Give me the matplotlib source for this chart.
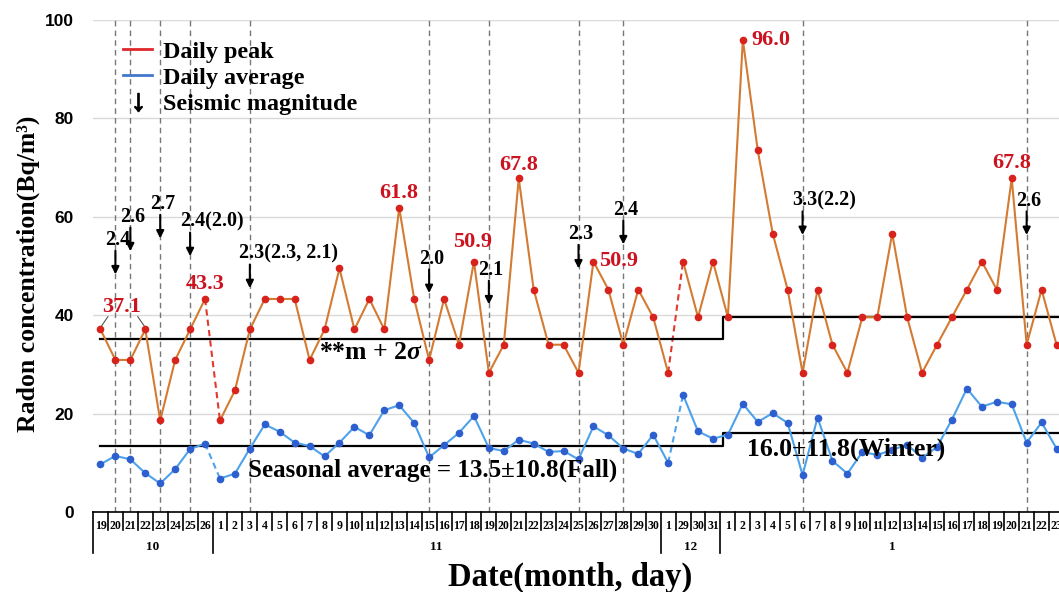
import matplotlib
matplotlib.use("Agg")
import matplotlib.pyplot as plt
import matplotlib.transforms as mtransforms
from matplotlib.lines import Line2D

plt.rcParams["font.family"] = ["Liberation Serif", "DejaVu Serif"]
plt.rcParams["font.weight"] = "bold"
plt.rcParams["axes.labelweight"] = "bold"
plt.rcParams["mathtext.fontset"] = "custom"
plt.rcParams["mathtext.rm"] = "Liberation Serif:bold"
plt.rcParams["mathtext.it"] = "Liberation Serif:italic:bold"
plt.rcParams["mathtext.bf"] = "Liberation Serif:bold"

# ---- data ---------------------------------------------------------------
months = ["10", "11", "12", "1"]
month_days = [
    list(range(19, 27)),
    list(range(1, 31)),
    [1, 29, 30, 31],
    list(range(1, 24)),
]

# daily peak radon concentration (Bq/m3)
peak = [
    37.1, 30.9, 30.9, 37.1, 18.6, 30.9, 37.1, 43.3,
    18.6, 24.7, 37.1, 43.3, 43.3, 43.3, 30.9, 37.1, 49.5, 37.1,
    43.3, 37.1, 61.8, 43.3, 30.9, 43.3, 34.0, 50.9, 28.3, 34.0,
    67.8, 45.2, 34.0, 34.0, 28.3, 50.9, 45.2, 34.0, 45.2, 39.6,
    28.3, 50.9, 39.6, 50.9,
    39.6, 96.0, 73.5, 56.6, 45.2, 28.3, 45.2, 34.0, 28.3, 39.6,
    39.6, 56.6, 39.6, 28.3, 34.0, 39.6, 45.2, 50.9, 45.2, 67.8,
    34.0, 45.2, 34.0,
]
# daily average radon concentration (Bq/m3)
average = [
    9.7, 11.4, 10.7, 7.9, 5.8, 8.7, 12.8, 13.9,
    6.8, 7.8, 12.9, 17.8, 16.3, 14.1, 13.4, 11.3, 14.1, 17.3,
    15.6, 20.7, 21.7, 18.1, 11.1, 13.6, 16.1, 19.5, 13.0, 12.4,
    14.7, 13.9, 12.2, 12.4, 10.7, 17.4, 15.6, 12.9, 11.8, 15.7,
    10.0, 23.8, 16.4, 14.9,
    15.7, 22.0, 18.3, 20.1, 18.1, 7.5, 19.2, 10.4, 7.8, 12.2,
    11.6, 12.6, 13.7, 11.0, 13.2, 18.8, 25.1, 21.4, 22.4, 21.9,
    14.1, 18.2, 12.9,
]
# last day before a stretch of missing days
gaps_after = [7, 38]

# earthquakes: day index and magnitude text
quake_idx = [1, 2, 4, 6, 10, 22, 26, 32, 35, 47, 62]
quake_mag = ["2.4", "2.6", "2.7", "2.4(2.0)", "2.3(2.3, 2.1)", "2.0",
             "2.1", "2.3", "2.4", "3.3(2.2)", "2.6"]

# seasonal statistics of the daily average
season_names = ["Fall", "Winter"]
season_mean = [13.5, 16.0]
season_std = [10.8, 11.8]
season_start = [0, 42]

# peaks that get a value label
label_idx = [0, 7, 20, 25, 28, 33, 43, 61]

# ---- layout -------------------------------------------------------------
quake_text_y = [55.3, 60.0, 62.6, 59.0, 52.5, 51.5, 49.2, 56.5, 61.4, 63.3, 63.3]
# (dx points, dy points, ha)
label_offset = {
    0: (15, 16, "center"),
    7: (0, 11, "center"),
    20: (0, 11, "center"),
    25: (-1, 14, "center"),
    28: (0, 9.5, "center"),
    33: (4, 0.5, "left"),
    43: (6, -0.5, "left"),
    61: (0, 11, "center"),
}

PEAK_LINE = "#d47b33"
PEAK_DOT = "#d8231c"
AVG_LINE = "#4ea2ea"
AVG_DOT = "#2e5fcf"
LABEL_RED = "#cc1420"

n = len(peak)
x = list(range(n))
xmax = n - 0.5

fig = plt.figure(figsize=(10.59, 5.92), dpi=100)
ax = fig.add_axes([93 / 1059, 80 / 592, 971 / 1059, 492 / 592])
ax.set_xlim(-0.5, xmax)
ax.set_ylim(0, 100)

ax.set_yticks([0, 20, 40, 60, 80, 100])
ax.tick_params(axis="y", length=0, pad=14)
for t in ax.get_yticklabels():
    t.set_family("Liberation Sans")
    t.set_fontsize(12.5)
    t.set_fontweight("bold")
ax.set_xticks([])
for s in ["top", "right", "left"]:
    ax.spines[s].set_visible(False)
ax.spines["bottom"].set_linewidth(1.2)
ax.yaxis.grid(True, color="#d9d9d9", lw=1)
ax.set_axisbelow(True)

# earthquake days
for qi in quake_idx:
    ax.axvline(qi, color="#777777", lw=1, ls=(0, (4, 3)), zorder=1)

# series, solid within runs, dashed across missing days
bounds = [0] + [g + 1 for g in gaps_after] + [n]
for a, b in zip(bounds[:-1], bounds[1:]):
    ax.plot(x[a:b], peak[a:b], color=PEAK_LINE, lw=1.5, marker="o", ms=4.5,
            mfc=PEAK_DOT, mec=PEAK_DOT, zorder=4)
    ax.plot(x[a:b], average[a:b], color=AVG_LINE, lw=1.5, marker="o", ms=4.5,
            mfc=AVG_DOT, mec=AVG_DOT, zorder=4)
for g in gaps_after:
    ax.plot([g, g + 1], peak[g:g + 2], color="#e03a30", lw=1.5, ls=(0, (3, 2)), zorder=3)
    ax.plot([g, g + 1], average[g:g + 2], color=AVG_LINE, lw=1.5, ls=(0, (3, 2)), zorder=3)

# seasonal mean and mean + 2 sigma, stepping at the season change
edges = [season_start[0]] + [s - 0.3 for s in season_start[1:]] + [xmax]
for level in (season_mean, [m + 2 * s for m, s in zip(season_mean, season_std)]):
    xs, ys = [], []
    for k, v in enumerate(level):
        xs += [edges[k], edges[k + 1]]
        ys += [v, v]
    ax.plot(xs, ys, color="black", lw=1.6, zorder=3)

ax.text(14.6, 32.5, r"**m + 2$\sigma$", fontsize=18.5, va="center", ha="left", zorder=5)
ax.text(9.9, 8.4, f"Seasonal average = {season_mean[0]}\u00b1{season_std[0]}({season_names[0]})",
        fontsize=18, va="center", ha="left", zorder=5)
ax.text(43.3, 12.7, f"{season_mean[1]}\u00b1{season_std[1]}({season_names[1]})",
        fontsize=18.5, va="center", ha="left", zorder=5)

# earthquake arrows and magnitudes
for qi, mag, ty in zip(quake_idx, quake_mag, quake_text_y):
    ax.text(qi - 0.7, ty, mag, fontsize=14.5, ha="left", va="center", zorder=5)
    ax.annotate("", xy=(qi, ty - 7.0), xytext=(qi, ty - 2.2),
                arrowprops=dict(arrowstyle="-|>", color="black", lw=1.5,
                                mutation_scale=11, shrinkA=0, shrinkB=0), zorder=5)

# peak value labels
for li in label_idx:
    dx, dy, ha = label_offset[li]
    ax.annotate(f"{peak[li]:.1f}", xy=(li, peak[li]), xytext=(dx, dy),
                textcoords="offset points", ha=ha, va="center",
                fontsize=16, color=LABEL_RED, zorder=5)
# 37.1 is shared by 19 Oct and 22 Oct
for li, sx in ((0, 0.5), (3, -0.5)):
    ax.plot([li, li + sx], [peak[li] + 0.4, peak[li] + 2.6], color="#555555", lw=0.8, zorder=3)

# day / month table under the axis
trans = mtransforms.blended_transform_factory(ax.transData, ax.transAxes)
pos = 0
for mlabel, days in zip(months, month_days):
    ax.plot([pos - 0.5, pos - 0.5], [0, -0.083], transform=trans, color="black",
            lw=1.2, clip_on=False)
    for k, d in enumerate(days):
        xi = pos + k
        if k > 0:
            ax.plot([xi - 0.5, xi - 0.5], [0, -0.036], transform=trans,
                    color="black", lw=1.2, clip_on=False)
        ax.text(xi, -0.0285, str(d), transform=trans, ha="center", va="center",
                fontsize=8.5, clip_on=False)
    ax.text(pos + (len(days) - 1) / 2, -0.071, mlabel, transform=trans,
            ha="center", va="center", fontsize=9.5, clip_on=False)
    pos += len(days)

ax.text(0.491, -0.132, "Date(month, day)", transform=ax.transAxes,
        ha="center", va="center", fontsize=23.5)
ax.set_ylabel("Radon concentration(Bq/m\u00b3)", fontsize=18.5, fontweight="bold")
ax.yaxis.set_label_coords(-0.055, 0.484)

handles = [
    Line2D([], [], color="#e0282a", lw=2),
    Line2D([], [], color="#4477cc", lw=2),
    Line2D([], [], color="black", marker=r"$\downarrow$", ls="none", ms=13),
]
ax.legend(handles, ["Daily peak", "Daily average", "Seismic magnitude"],
          loc="upper left", bbox_to_anchor=(0.031, 0.958), frameon=False,
          fontsize=17.4, handlelength=1.2, handletextpad=0.45, labelspacing=0.18,
          borderpad=0, borderaxespad=0)

fig.savefig("out.png", dpi=100)
